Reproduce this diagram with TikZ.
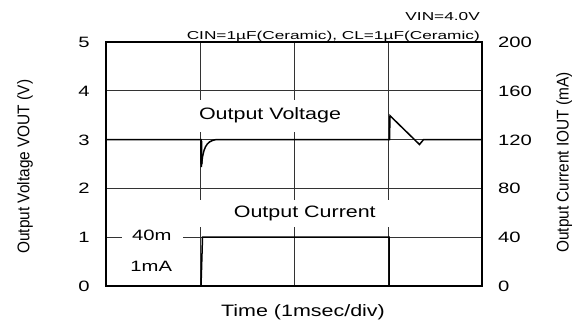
\documentclass[tikz,border=0pt]{standalone}
\usepackage{fontspec}
\setmainfont{Liberation Sans}
\usepackage{graphicx}
\begin{document}
\begin{tikzpicture}[x=1pt,y=-1pt,
  lab/.style={font=\fontsize{16.5}{18}\selectfont, inner sep=0pt, anchor=base},
  tick/.style={font=\fontsize{15}{17}\selectfont, inner sep=0pt, anchor=base},
  small/.style={font=\fontsize{11.5}{13}\selectfont, inner sep=0pt, anchor=base east},
  axt/.style={font=\fontsize{15.4}{17}\selectfont, inner sep=0pt, anchor=base, rotate=90},
  gridline/.style={line width=1.1pt, black!80},
  framebox/.style={line width=2.8pt},
  trace/.style={line width=1.5pt, line join=miter}]
\useasboundingbox[fill=white] (0,0) rectangle (582,322);
% grid
\foreach \yy in {90.8,139.6,188.4} \draw[gridline] (106,\yy) -- (482,\yy);
\draw[gridline] (106,237.2) -- (121.7,237.2);
\draw[gridline] (183,237.2) -- (482,237.2);
\foreach \xx in {200.5,294.5,388.8} \draw[gridline] (\xx,42) -- (\xx,286);
% label backgrounds
\fill[white] (196,100) rectangle (346,132);
\fill[white] (195,200) rectangle (395,227);
% labels
\node[lab] (lv) at (270,119.3) {\scalebox{1.3}[1]{Output Voltage}};
\node[lab] (lc) at (304.8,217.3) {\scalebox{1.3}[1]{Output Current}};
\node[lab] (lt) at (303,316) {\scalebox{1.3}[1]{Time (1msec/div)}};
\node[tick] (l40) at (151.7,240.7) {\scalebox{1.35}[1]{40m}};
\node[tick] (l1ma) at (151.2,271.7) {\scalebox{1.35}[1]{1mA}};
\node[small] (vin) at (480,20.7) {\scalebox{1.5}[1]{VIN=4.0V}};
\node[small] (cin) at (480,39.3) {\scalebox{1.5}[1]{CIN=1µF(Ceramic), CL=1µF(Ceramic)}};
\node[axt] (ly) at (29.3,166.7) {\scalebox{1}[1.1]{Output Voltage VOUT (V)}};
\node[axt] (ry) at (568.5,162.5) {\scalebox{1}[1.1]{Output Current IOUT (mA)}};
% tick labels
\foreach \v/\r [count=\k from 0] in {0/0,1/40,2/80,3/120,4/160,5/200} {
  \pgfmathsetmacro{\yy}{286-48.8*\k+5.4}
  \node[tick] (tl\k) at (84,\yy) {\scalebox{1.35}[1]{\v}};
  \node[tick, anchor=base west] (tr\k) at (498,\yy) {\scalebox{1.35}[1]{\r}};
}
% voltage trace
\draw[trace] (106,139.6) -- (201,139.6) -- (201.3,167) .. controls (203,148) and (206,141) .. (216,139.6)
  -- (389.5,139.6) -- (390,115.7) -- (419.5,144.5) -- (423.5,139.6) -- (482,139.6);
\draw[line width=2.2pt] (201.2,141) -- (201.5,164);
% current trace
\draw[trace] (106,286) -- (201,286) -- (202.5,237.2) -- (389,237.2) -- (389,286) -- (482,286);
% frame
\draw[framebox] (106,42) rectangle (482,286);
\end{tikzpicture}
\end{document}
